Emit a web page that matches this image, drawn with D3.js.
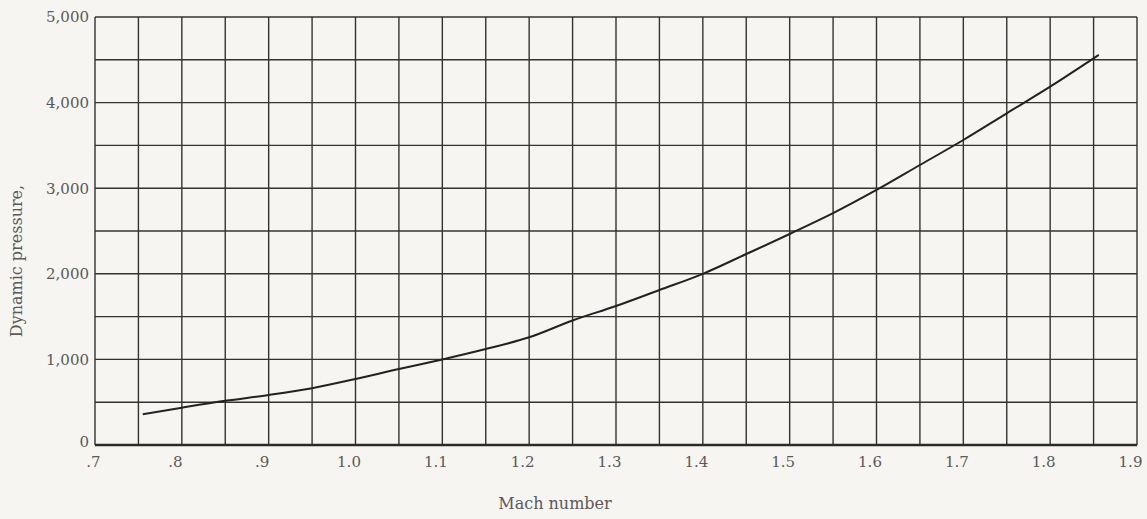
<!DOCTYPE html>
<html>
<head>
<meta charset="utf-8">
<script src="https://cdn.jsdelivr.net/npm/d3@7"></script>
<style>
  html, body { margin: 0; padding: 0; background: #f6f5f1; }
  svg { display: block; }
  text { font-family: "DejaVu Serif", "Liberation Serif", serif; fill: #5a5a5a; }
</style>
</head>
<body>
<svg id="chart" width="1147" height="519"></svg>
<script>
// Data
const mach = [0.755, 0.8, 0.85, 0.9, 0.95, 1.0, 1.05, 1.1, 1.15, 1.2, 1.25, 1.3, 1.35, 1.4, 1.45, 1.5, 1.55, 1.6, 1.65, 1.7, 1.75, 1.8, 1.85, 1.856];
const dynamicPressure = [360, 436, 516, 584, 664, 771, 888, 1000, 1121, 1258, 1455, 1624, 1811, 2000, 2231, 2465, 2708, 2979, 3271, 3563, 3875, 4186, 4517, 4557];
const xTickValues = [0.7, 0.8, 0.9, 1.0, 1.1, 1.2, 1.3, 1.4, 1.5, 1.6, 1.7, 1.8, 1.9];
const xTickLabels = [".7", ".8", ".9", "1.0", "1.1", "1.2", "1.3", "1.4", "1.5", "1.6", "1.7", "1.8", "1.9"];
const yTickValues = [0, 1000, 2000, 3000, 4000, 5000];
const yTickLabels = ["0", "1,000", "2,000", "3,000", "4,000", "5,000"];
const xGridStep = 0.05;
const yGridStep = 500;

(function () {
const svg = d3.select("#chart");
const mLeft = 95, mRight = 1137, mTop = 17, mBottom = 445;

const x = d3.scaleLinear().domain([0.7, 1.9]).range([mLeft, mRight]);
const y = d3.scaleLinear().domain([0, 5000]).range([mBottom, mTop]);

const xGrid = d3.range(0, 25).map(i => 0.7 + i * xGridStep);
const yGrid = d3.range(0, 11).map(i => i * yGridStep);

const g = svg.append("g");
g.selectAll("line.vg").data(xGrid).enter().append("line")
  .attr("x1", d => x(d)).attr("x2", d => x(d))
  .attr("y1", y(5000)).attr("y2", y(0))
  .attr("stroke", "#333").attr("stroke-width", 1.4);
g.selectAll("line.hg").data(yGrid).enter().append("line")
  .attr("x1", x(0.7)).attr("x2", x(1.9))
  .attr("y1", d => y(d)).attr("y2", d => y(d))
  .attr("stroke", "#333").attr("stroke-width", 1.4);
g.append("line")
  .attr("x1", x(0.7)).attr("x2", x(1.9))
  .attr("y1", y(0)).attr("y2", y(0))
  .attr("stroke", "#2a2a2a").attr("stroke-width", 2.4);

const xAxis = d3.axisBottom(x).tickValues(xTickValues)
  .tickFormat((d, i) => xTickLabels[i]).tickSize(0).tickPadding(11);
const xg = svg.append("g").attr("transform", `translate(0,${mBottom})`).call(xAxis);
xg.select(".domain").remove();
xg.selectAll("text").attr("dx", (d, i) => i === 0 ? -2 : -7).style("font-size", "15px")
  .style("font-family", '"DejaVu Serif", serif').attr("fill", "#5a5a5a");

const yAxis = d3.axisLeft(y).tickValues(yTickValues)
  .tickFormat((d, i) => yTickLabels[i]).tickSize(0).tickPadding(6);
const yg = svg.append("g").attr("transform", `translate(${mLeft},0)`).call(yAxis);
yg.select(".domain").remove();
yg.selectAll("text").style("font-size", "15px")
  .style("font-family", '"DejaVu Serif", serif').attr("fill", "#5a5a5a")
  .attr("dy", (d, i) => i === 0 ? "0.12em" : "0.32em");

const pts = mach.map((m, i) => [m, dynamicPressure[i]]);
svg.append("path").datum(pts)
  .attr("fill", "none").attr("stroke", "#222").attr("stroke-width", 2)
  .attr("d", d3.line().x(d => x(d[0])).y(d => y(d[1])).curve(d3.curveMonotoneX));

svg.append("text").attr("x", 555).attr("y", 509).attr("text-anchor", "middle")
  .style("font-size", "16px").text("Mach number");
svg.append("text").attr("transform", "translate(22,261) rotate(-90)")
  .attr("text-anchor", "middle").style("font-size", "16px").text("Dynamic pressure,");
})();
</script>
</body>
</html>
